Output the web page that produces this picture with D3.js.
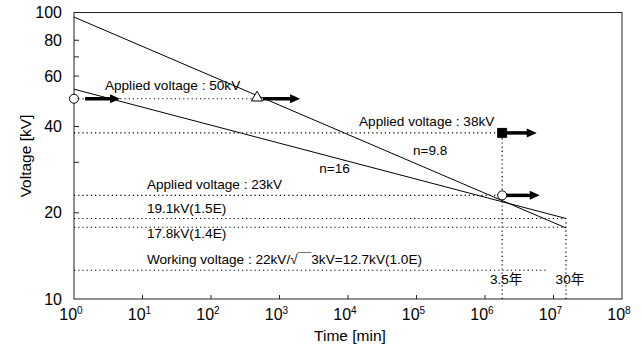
<!DOCTYPE html>
<html>
<head>
<meta charset="utf-8">
<script src="https://cdn.jsdelivr.net/npm/d3@7"></script>
<style>
	body { margin: 0; background: #fff; }
	svg { font-family: 'Liberation Sans', 'Noto Sans CJK JP', sans-serif; }
	.frame { fill: none; stroke: #222; stroke-width: 1; }
	.life-line { fill: none; stroke: #000; stroke-width: 1; }
	.ref-line { fill: none; stroke: #000; stroke-width: 1.2; stroke-dasharray: 1.2,3; }
	.tick { stroke: #222; stroke-width: 1; }
	.note { font-size: 13.6px; fill: #000; }
	.tick-label { font-size: 16px; fill: #000; }
	.axis-title { font-size: 15.5px; fill: #000; }
</style>
</head>
<body>
<svg id="chart" width="642" height="351"></svg>
<script>
"use strict";

/* global d3 */

// ---- Data ------------------------------------------------------------------
// time in minutes, voltage in kV
const timeDecades  = [0, 1, 2, 3, 4, 5, 6, 7, 8];
const voltTicks    = [20, 30, 40, 50, 60, 70, 80];
const voltLabels   = [10, 20, 40, 60, 80, 100];

const T_35Y = 1.78e6;   // 3.5 years
const T_30Y = 1.52e7;   // 30 years

// V-t life lines (endpoints, straight on log-log axes)
const lifeN98 = [{t: 1, v: 96.4}, {t: T_30Y, v: 17.7}];
const lifeN16 = [{t: 1, v: 54.0}, {t: T_30Y, v: 19.1}];

// Dotted horizontal reference levels
const refLevels = [
	{v: 50,   t0: 1, t1: 470},
	{v: 38,   t0: 1, t1: T_35Y},
	{v: 23,   t0: 1, t1: T_35Y},
	{v: 19.1, t0: 1, t1: T_30Y},
	{v: 17.8, t0: 1, t1: T_30Y},
	{v: 12.6, t0: 1, t1: 7.8e6}
];

// Dotted vertical lines
const refTimes = [
	{t: T_35Y, v0: 10, v1: 38,   label: '3.5年'},
	{t: T_30Y, v0: 10, v1: 19.1, label: '30年'}
];

// Test points (symbol) and the arrows that follow them
const testPoints = [
	{t: 1,     v: 50, shape: 'circle'},
	{t: 470,   v: 50, shape: 'triangle'},
	{t: T_35Y, v: 38, shape: 'square'},
	{t: T_35Y, v: 23, shape: 'circle'}
];
const arrows = [
	{v: 50, t0: 1.45,   t1: 4.7},
	{v: 50, t0: 575,    t1: 2000},
	{v: 38, t0: 1.95e6, t1: 5.7e6},
	{v: 23, t0: 1.85e6, t1: 6.3e6}
];

// Text notes: anchored at (t, v) = start of text baseline
const notes = [
	{t: 2.83,  v: 53.6, txt: 'Applied voltage : 50kV'},
	{t: 1.45e4, v: 40.2, txt: 'Applied voltage : 38kV'},
	{t: 8.9e4, v: 31.8, txt: 'n=9.8'},
	{t: 3.8e3, v: 27.5, txt: 'n=16'},
	{t: 11.6,  v: 24.2, txt: 'Applied voltage : 23kV'},
	{t: 11.6,  v: 20.0, txt: '19.1kV(1.5E)'},
	{t: 11.6,  v: 16.3, txt: '17.8kV(1.4E)'},
	{t: 11.6,  v: 13.25, txt: 'Working voltage : 22kV/√￣3kV=12.7kV(1.0E)'}
];

// ---- Layout ------------------------------------------------------------------
const svg = d3.select('#chart');
const x = d3.scaleLog().domain([1, 1e8]).range([74, 622]);
const y = d3.scaleLog().domain([10, 100]).range([299, 12.5]);

////////////////////////////////////////////////////////////////////////////////
// Draw a thick right-pointing arrow between two times at voltage v
////////////////////////////////////////////////////////////////////////////////
function drawArrow(parent, a) {
	var x0 = x(a.t0), x1 = x(a.t1), yy = y(a.v), hl = 10, hw = 4.5;
	parent.append('line').attr('x1', x0).attr('y1', yy).attr('x2', x1 - hl + 1).attr('y2', yy).
		attr('stroke', '#000').attr('stroke-width', 3.5);
	parent.append('path').
		attr('d', 'M' + x1 + ',' + yy + 'L' + (x1 - hl) + ',' + (yy - hw) + 'L' + (x1 - hl) + ',' + (yy + hw) + 'Z').
		attr('fill', '#000');
} // end function drawArrow(...)

// Plot frame
svg.append('rect').attr('class', 'frame').
	attr('x', x.range()[0]).attr('y', y.range()[1]).
	attr('width', x.range()[1] - x.range()[0]).attr('height', y.range()[0] - y.range()[1]);

// Inward ticks
var g = svg.append('g');
g.selectAll('.ytick').data(voltTicks).join('line').attr('class', 'tick').
	attr('x1', x(1)).attr('x2', x(1) + 5).attr('y1', d => y(d)).attr('y2', d => y(d));
g.selectAll('.xtick').data(timeDecades.slice(1, -1)).join('line').attr('class', 'tick').
	attr('x1', d => x(Math.pow(10, d))).attr('x2', d => x(Math.pow(10, d))).
	attr('y1', y(10)).attr('y2', y(10) - 4);

// Y tick labels
svg.selectAll('.ylab').data(voltLabels).join('text').attr('class', 'tick-label').
	attr('x', 62).attr('y', d => y(d)).attr('dy', '0.35em').attr('text-anchor', 'end').
	text(d => d);

// X tick labels 10^n
var xl = svg.selectAll('.xlab').data(timeDecades).join('text').attr('class', 'tick-label').
	attr('x', d => x(Math.pow(10, d)) - 3).attr('y', 320).attr('text-anchor', 'middle');
xl.append('tspan').text('10');
xl.append('tspan').attr('dy', -6).attr('font-size', '10px').text(d => d);

// Axis titles
svg.append('text').attr('class', 'axis-title').attr('text-anchor', 'middle').
	attr('transform', 'translate(31,156) rotate(-90)').text('Voltage [kV]');
svg.append('text').attr('class', 'axis-title').attr('text-anchor', 'middle').
	attr('x', 350).attr('y', 341).text('Time [min]');

// Reference dotted lines
svg.selectAll('.href').data(refLevels).join('line').attr('class', 'ref-line').
	attr('x1', d => x(d.t0)).attr('x2', d => x(d.t1)).attr('y1', d => y(d.v)).attr('y2', d => y(d.v));
svg.selectAll('.vref').data(refTimes).join('line').attr('class', 'ref-line').
	attr('x1', d => x(d.t)).attr('x2', d => x(d.t)).attr('y1', d => y(d.v0)).attr('y2', d => y(d.v1));
svg.selectAll('.vlab').data(refTimes).join('text').attr('class', 'note').
	attr('x', d => x(d.t) + 4).attr('y', 284).attr('text-anchor', 'middle').
	text(d => d.label);

// Life lines
var line = d3.line().x(d => x(d.t)).y(d => y(d.v));
[lifeN98, lifeN16].forEach(function(l) {
	svg.append('path').attr('class', 'life-line').attr('d', line(l));
});

// Notes
svg.selectAll('.nt').data(notes).join('text').attr('class', 'note').
	attr('x', d => x(d.t)).attr('y', d => y(d.v)).text(d => d.txt);

// Arrows
arrows.forEach(function(a) { drawArrow(svg, a); });

// Test point symbols
var shapes = { circle: d3.symbolCircle, triangle: d3.symbolTriangle, square: d3.symbolSquare };
svg.selectAll('.pt').data(testPoints).join('path').
	attr('transform', d => 'translate(' + x(d.t) + ',' + (y(d.v) - (d.shape === 'triangle' ? 1 : 0)) + ')').
	attr('d', d => d3.symbol().type(shapes[d.shape]).size(d.shape === 'square' ? 80 : (d.shape === 'triangle' ? 55 : 64))()).
	attr('fill', d => d.shape === 'square' ? '#000' : '#fff').
	attr('stroke', '#000').attr('stroke-width', 1);
</script>
</body>
</html>
